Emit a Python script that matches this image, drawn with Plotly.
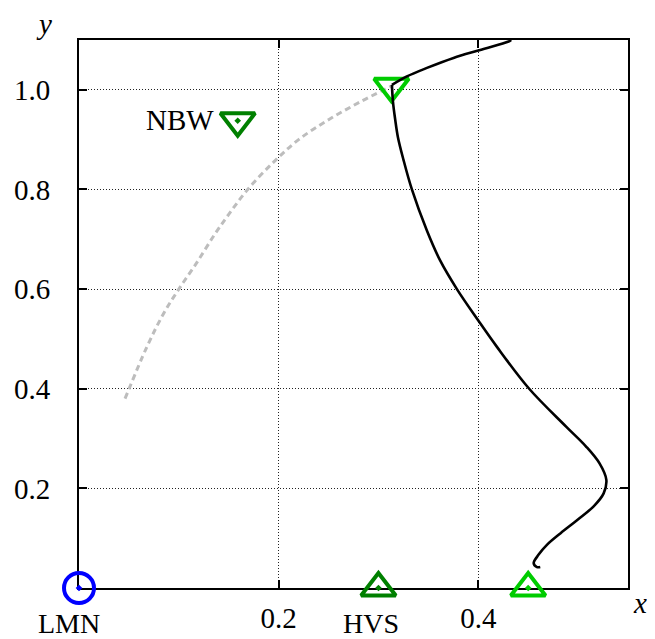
import plotly.graph_objects as go

# black curve: upper branch (top edge down to the corner) and lower branch
upper_x = [0.433, 0.4304, 0.402, 0.3752, 0.3486, 0.3285, 0.3135]
upper_y = [1.10, 1.097, 1.080, 1.064, 1.044, 1.027, 1.010]
lower_x = [0.3135, 0.3145, 0.3168, 0.3195, 0.325, 0.3335, 0.3486, 0.3619, 0.3786,
           0.400, 0.4187, 0.451, 0.488, 0.508, 0.5215, 0.5283, 0.5256, 0.5156,
           0.4995, 0.4825, 0.4690, 0.4605, 0.4555, 0.4588, 0.4621]
lower_y = [1.010, 0.977, 0.940, 0.905, 0.860, 0.800, 0.717, 0.657, 0.600,
           0.537, 0.484, 0.400, 0.324, 0.284, 0.250, 0.217, 0.190, 0.164,
           0.137, 0.110, 0.087, 0.067, 0.050, 0.042, 0.042]

# gray dashed curve
gray_x = [0.0461, 0.068, 0.0845, 0.100, 0.117, 0.136, 0.150, 0.169, 0.196, 0.220,
          0.250, 0.281, 0.3135]
gray_y = [0.380, 0.484, 0.550, 0.600, 0.650, 0.710, 0.750, 0.800, 0.857, 0.900,
          0.940, 0.975, 1.008]

# labelled points
lmn = (0.0, 0.0)
hvs = (0.30, 0.0)
nbw = (0.159, 0.938)
bright_up = (0.45, 0.0)
bright_down = (0.313, 1.007)

x_ticks = [0.2, 0.4]
y_ticks = [0.2, 0.4, 0.6, 0.8, 1.0]

DARK_GREEN = "#008000"
BRIGHT_GREEN = "#00cc00"
FONT = "Liberation Serif"
FS = 29

fig = go.Figure()

fig.add_trace(go.Scatter(x=gray_x, y=gray_y, mode="lines", line_shape="spline",
                         line=dict(color="#bdbdbd", width=3, dash="6px,4px"),
                         hoverinfo="skip", showlegend=False))

def marker(pt, symbol, color):
    fig.add_trace(go.Scatter(x=[pt[0]], y=[pt[1]], mode="markers", cliponaxis=False,
                             marker=dict(symbol=symbol, size=30, color=color,
                                         line=dict(color=color, width=4)),
                             showlegend=False))

marker(lmn, "circle-open-dot", "#0000ff")
marker(hvs, "triangle-up-open-dot", DARK_GREEN)
marker(nbw, "triangle-down-open-dot", DARK_GREEN)
marker(bright_up, "triangle-up-open-dot", BRIGHT_GREEN)
marker(bright_down, "triangle-down-open", BRIGHT_GREEN)

fig.add_trace(go.Scatter(x=upper_x, y=upper_y, mode="lines", line_shape="spline",
                         line=dict(color="black", width=2.6), showlegend=False))
fig.add_trace(go.Scatter(x=lower_x, y=lower_y, mode="lines", line_shape="spline",
                         line=dict(color="black", width=2.6), showlegend=False))

ann_font = dict(family=FONT, size=FS, color="black")
low_font = dict(family=FONT, size=28, color="black")
annotations = [
    dict(x=lmn[0], y=lmn[1], xref="x", yref="y", text="LMN", showarrow=False,
         xshift=-10, yshift=-35, font=low_font),
    dict(x=hvs[0], y=hvs[1], xref="x", yref="y", text="HVS", showarrow=False,
         xshift=-7, yshift=-35, font=low_font),
    dict(x=nbw[0], y=nbw[1], xref="x", yref="y", text="NBW", showarrow=False,
         xanchor="right", xshift=-22, yshift=1, font=ann_font),
    dict(x=-0.064, y=1.030, xref="paper", yref="paper", text="<i>y</i>", showarrow=False,
         xanchor="center", yanchor="middle", font=ann_font),
    dict(x=1.022, y=-0.027, xref="paper", yref="paper", text="<i>x</i>", showarrow=False,
         xanchor="center", yanchor="middle", font=ann_font),
]

axis_common = dict(showline=True, linecolor="black", linewidth=2, mirror="ticks",
                   ticks="inside", ticklen=8, tickwidth=2, tickcolor="black",
                   showgrid=True, gridcolor="#222222", gridwidth=1, griddash="1px,2px",
                   zeroline=False, layer="below traces", automargin=False,
                   tickfont=dict(family=FONT, size=FS, color="black"))

fig.update_layout(
    template="none",
    width=655, height=639,
    margin=dict(l=71, r=35, t=32, b=59, autoexpand=False),
    plot_bgcolor="white", paper_bgcolor="white",
    xaxis=dict(range=[0, 0.55], tickvals=x_ticks, ticktext=[str(v) for v in x_ticks],
               ticklabelstandoff=3, **axis_common),
    yaxis=dict(range=[0, 1.1], tickvals=y_ticks, ticktext=[f"{v:.1f}" for v in y_ticks],
               ticklabelstandoff=21, **axis_common),
    annotations=annotations,
)

fig.write_html("out.html")
